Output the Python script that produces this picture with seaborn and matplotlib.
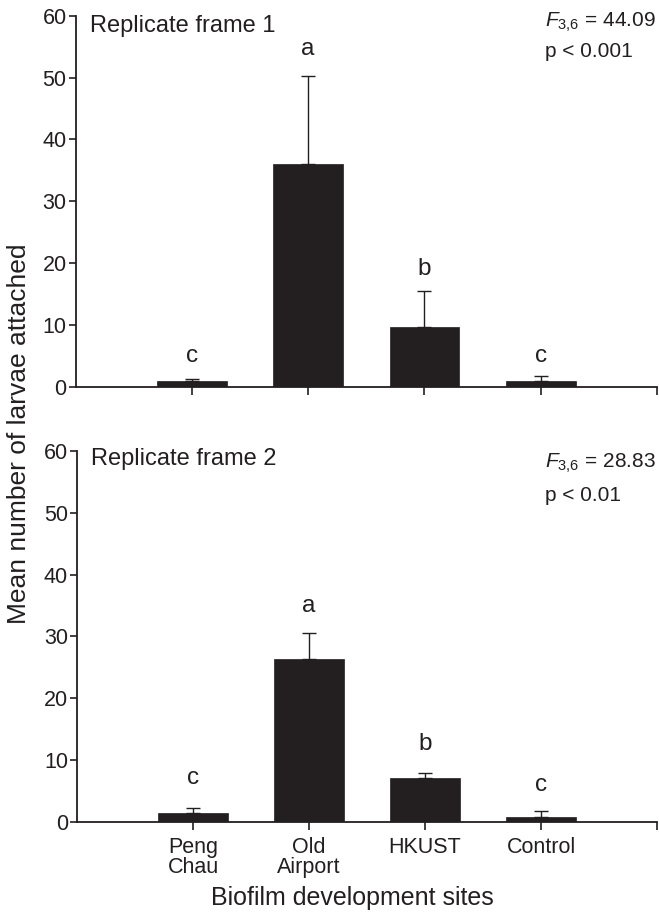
import matplotlib
matplotlib.use("Agg")
import matplotlib.pyplot as plt
import seaborn as sns
import pandas as pd
import numpy as np

sites = ["Peng\nChau", "Old\nAirport", "HKUST", "Control"]

frame1_mean = [0.9, 36.0, 9.6, 0.9]
frame1_err = [0.4, 14.3, 5.9, 0.9]
frame1_letters = ["c", "a", "b", "c"]
frame1_letter_y = [4.05, 53.6, 18.1, 4.05]
frame1_stat = ("44.09", "p < 0.001")

frame2_mean = [1.35, 26.3, 7.0, 0.8]
frame2_err = [0.9, 4.3, 0.9, 1.0]
frame2_letters = ["c", "a", "b", "c"]
frame2_letter_y = [6.05, 34.0, 11.6, 5.0]
frame2_stat = ("28.83", "p < 0.01")

titles = ["Replicate frame 1", "Replicate frame 2"]

sns.set_theme(style="ticks")
plt.rcParams["font.family"] = ["Liberation Sans", "DejaVu Sans"]
ink = "#231f20"
plt.rcParams["text.color"] = ink
plt.rcParams["axes.labelcolor"] = ink
plt.rcParams["xtick.color"] = ink
plt.rcParams["ytick.color"] = ink
plt.rcParams["mathtext.fontset"] = "custom"
plt.rcParams["mathtext.it"] = "Liberation Sans:italic"
plt.rcParams["mathtext.rm"] = "Liberation Sans"

fig = plt.figure(figsize=(6.59, 9.13), dpi=100)
ax1 = fig.add_axes([0.1147, 0.5764, 0.8823, 0.4064])
ax2 = fig.add_axes([0.1170, 0.1000, 0.8800, 0.4060])

# per panel: title baseline, F-line baseline, p-line baseline (axes fraction)
text_rows = [(0.956, 0.970, 0.890), (0.962, 0.954, 0.865)]

panels = [
    (ax1, frame1_mean, frame1_err, frame1_letters, frame1_letter_y, frame1_stat, titles[0]),
    (ax2, frame2_mean, frame2_err, frame2_letters, frame2_letter_y, frame2_stat, titles[1]),
]

for i, (ax, means, errs, letters, ly, stat, title) in enumerate(panels):
    df = pd.DataFrame({"site": sites, "mean": means})
    sns.barplot(data=df, x="site", y="mean", color=ink, saturation=1,
                width=0.6, errorbar=None, ax=ax, edgecolor=ink, linewidth=0.5)
    pos = np.arange(len(sites))
    ax.errorbar(pos, means, yerr=[np.zeros(len(errs)), errs], fmt="none",
                ecolor=ink, elinewidth=1.0, capsize=5, capthick=1.0, zorder=3)
    for x, l, y in zip(pos, letters, ly):
        ax.text(x, y, l, ha="center", va="baseline", fontsize=17.5)
    ax.set_xlim(-1, 4)
    ax.set_ylim(0, 60)
    ax.set_yticks(range(0, 61, 10))
    ax.set_xticks([0, 1, 2, 3, 4])
    if i == 1:
        ax.set_xticklabels(sites + [""], fontsize=15.5, linespacing=0.95)
    else:
        ax.set_xticklabels([""] * 5)
    ax.tick_params(axis="y", labelsize=15.5, length=5, width=1.2, direction="out", pad=1.5)
    ax.tick_params(axis="x", length=6, width=1.2, direction="out", pad=5)
    for s in ["top", "right"]:
        ax.spines[s].set_visible(False)
    for s in ["left", "bottom"]:
        ax.spines[s].set_linewidth(1.3)
        ax.spines[s].set_color(ink)
    ax.set_xlabel("")
    ax.set_ylabel("")
    ty, fy, py = text_rows[i]
    ax.text(0.024, ty, title, transform=ax.transAxes, ha="left", va="baseline",
            fontsize=17)
    ax.text(0.807, fy, r"$\mathit{F}_{3{,}6}$ = " + stat[0], transform=ax.transAxes,
            ha="left", va="baseline", fontsize=15)
    ax.text(0.807, py, stat[1], transform=ax.transAxes, ha="left", va="baseline",
            fontsize=15)

fig.text(0.029, 0.5246, "Mean number of larvae attached", rotation=90,
         ha="center", va="center", fontsize=19)
fig.text(0.534, 0.0088, "Biofilm development sites", ha="center", va="baseline",
         fontsize=18)

fig.savefig("out.png", dpi=100)
